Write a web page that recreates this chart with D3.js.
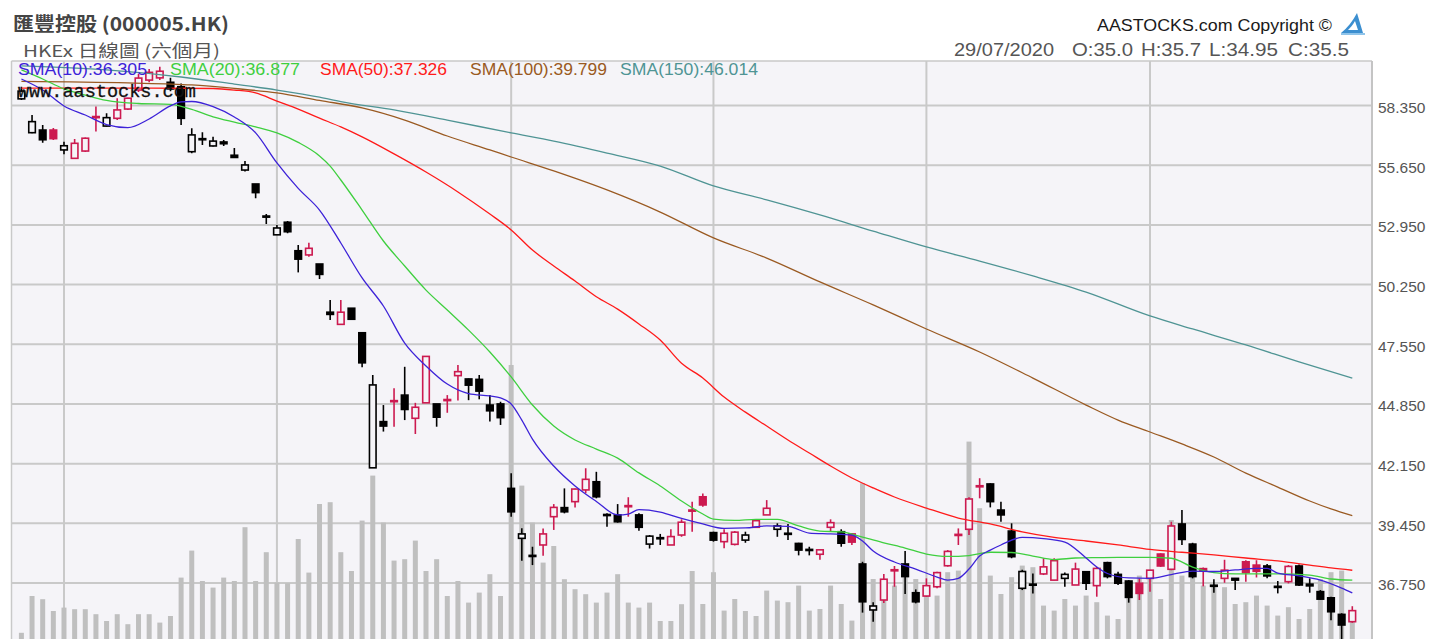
<!DOCTYPE html>
<html>
<head>
<meta charset="utf-8">
<script src="https://cdn.jsdelivr.net/npm/d3@7"></script>
<style>
  body { margin: 0; background: #fff; }
</style>
</head>
<body>
<svg id="chart" width="1430" height="639"></svg>
<script>
// trading days shown (six months to 29/07/2020)
const dates = [
  "2020-01-24","2020-01-29","2020-01-30","2020-01-31",
  "2020-02-03","2020-02-04","2020-02-05","2020-02-06","2020-02-07","2020-02-10","2020-02-11","2020-02-12","2020-02-13","2020-02-14",
  "2020-02-17","2020-02-18","2020-02-19","2020-02-20","2020-02-21","2020-02-24","2020-02-25","2020-02-26","2020-02-27","2020-02-28",
  "2020-03-02","2020-03-03","2020-03-04","2020-03-05","2020-03-06","2020-03-09","2020-03-10","2020-03-11","2020-03-12","2020-03-13",
  "2020-03-16","2020-03-17","2020-03-18","2020-03-19","2020-03-20","2020-03-23","2020-03-24","2020-03-25","2020-03-26","2020-03-27",
  "2020-03-30","2020-03-31",
  "2020-04-01","2020-04-02","2020-04-03","2020-04-06","2020-04-07","2020-04-08","2020-04-09","2020-04-14","2020-04-15","2020-04-16",
  "2020-04-17","2020-04-20","2020-04-21","2020-04-22","2020-04-23","2020-04-24","2020-04-27","2020-04-28","2020-04-29",
  "2020-05-04","2020-05-05","2020-05-06","2020-05-07","2020-05-08","2020-05-11","2020-05-12","2020-05-13","2020-05-14","2020-05-15",
  "2020-05-18","2020-05-19","2020-05-20","2020-05-21","2020-05-22","2020-05-25","2020-05-26","2020-05-27","2020-05-28","2020-05-29",
  "2020-06-01","2020-06-02","2020-06-03","2020-06-04","2020-06-05","2020-06-08","2020-06-09","2020-06-10","2020-06-11","2020-06-12",
  "2020-06-15","2020-06-16","2020-06-17","2020-06-18","2020-06-19","2020-06-22","2020-06-23","2020-06-24","2020-06-26","2020-06-29",
  "2020-06-30",
  "2020-07-02","2020-07-03","2020-07-06","2020-07-07","2020-07-08","2020-07-09","2020-07-10","2020-07-13","2020-07-14","2020-07-15",
  "2020-07-16","2020-07-17","2020-07-20","2020-07-21","2020-07-22","2020-07-23","2020-07-24","2020-07-27","2020-07-28","2020-07-29"
];

const opens = [
  58.65,57.12,57.24,57.24,56.34,55.96,56.29,57.8,57.42,57.77,58.19,59.05,59.5,59.6,59.4,59.2,56.26,56.85,56.52,56.7,
  56.1,55.43,54.8,53.35,52.5,53.07,51.78,51.59,51.18,49.0,48.45,49.18,48.07,41.96,44.05,44.95,45.25,44.2,44.9,44.85,
  45.0,46.13,45.98,45.96,44.8,44.85,41.03,38.77,38.0,38.47,39.75,40.16,40.43,40.96,41.33,39.85,39.83,40.25,39.83,38.51,
  38.8,38.47,38.92,40.0,40.65,39.03,38.62,38.5,38.69,39.27,39.83,39.18,39.0,38.54,38.27,38.05,39.27,39.07,38.97,37.61,
  35.53,35.98,37.3,37.61,36.31,36.16,36.58,37.53,38.9,39.18,41.15,41.23,40.05,39.1,36.51,36.7,37.16,36.88,36.96,36.66,
  37.26,36.63,37.67,37.14,36.84,36.74,36.96,38.06,37.37,39.42,38.51,37.4,36.65,36.96,36.96,37.71,37.56,37.52,36.6,36.81,
  37.52,36.7,36.36,36.08,35.33,35.0
];
const highs = [
  59.2,57.92,57.47,57.33,56.71,56.83,56.9,58.3,58.0,58.68,58.7,59.77,60.0,60.1,59.6,59.35,57.32,57.14,56.94,56.79,
  56.43,55.84,54.8,53.44,52.95,53.12,52.04,52.14,51.18,49.55,49.55,49.18,48.07,46.16,44.8,45.56,46.53,44.9,47.0,44.85,
  45.25,46.61,46.0,46.16,45.25,44.95,41.71,39.23,38.39,39.22,40.32,41.03,41.03,41.94,41.78,39.9,40.32,40.63,39.9,38.92,
  38.97,39.18,39.63,40.43,40.8,39.07,39.18,39.1,39.07,39.6,40.5,39.45,39.42,38.57,38.39,38.25,39.63,39.18,39.0,37.71,
  35.88,37.16,37.52,38.2,36.46,36.96,37.26,38.24,39.22,40.63,41.49,41.26,40.43,39.45,37.35,37.18,37.87,37.87,37.22,37.67,
  37.29,37.48,37.71,37.26,36.88,36.96,37.33,38.09,39.52,40.05,38.57,37.45,36.92,37.8,36.96,37.78,37.78,37.61,36.84,37.56,
  37.59,36.96,36.43,36.13,35.38,35.7
];
const lows = [
  58.6,57.1,56.67,56.79,56.14,55.93,56.25,57.17,57.4,57.69,58.15,58.96,59.4,59.5,59.0,57.47,56.19,56.56,56.5,56.52,
  55.98,55.36,54.15,52.99,52.5,52.57,50.8,51.51,50.5,48.65,48.42,48.65,46.51,41.96,43.6,43.82,44.12,43.49,44.9,43.82,
  44.45,45.0,45.02,45.06,44.05,43.9,39.75,37.76,37.56,37.98,39.15,39.9,40.17,40.81,40.58,39.3,39.48,39.75,39.11,38.31,
  38.47,38.47,38.84,39.07,40.2,38.62,38.32,38.45,38.57,39.27,39.83,38.84,38.7,38.0,38.0,37.8,39.07,38.39,38.47,35.41,
  35.0,35.85,36.58,36.25,35.83,36.13,36.51,37.49,38.47,38.92,40.58,40.17,39.52,37.87,36.43,36.28,37.11,36.88,36.58,36.66,
  36.43,36.13,36.96,36.66,35.86,35.98,36.35,37.48,37.33,38.47,36.96,36.6,36.31,36.76,36.43,36.81,37.0,36.96,36.28,36.73,
  36.61,36.31,36.0,35.07,34.0,34.95
];
const closes = [
  59.0,57.62,56.8,56.85,56.53,56.64,56.87,57.85,57.8,58.15,58.68,59.59,59.85,59.9,59.1,57.77,57.02,56.8,56.74,56.62,
  56.0,55.66,54.41,53.3,52.81,52.64,51.4,51.89,50.71,48.9,49.0,48.68,46.71,45.71,43.85,45.0,44.6,44.7,47.0,44.25,
  45.05,46.31,45.7,45.43,44.54,44.23,39.97,38.97,37.95,38.97,40.17,39.97,41.0,41.44,40.65,39.8,39.52,40.2,39.27,38.87,
  38.75,38.85,39.5,40.05,40.28,38.69,39.0,39.05,38.92,39.57,40.13,39.33,38.95,38.24,38.22,38.25,39.48,38.55,38.6,35.9,
  35.71,36.92,37.35,37.04,35.9,36.63,37.22,38.18,38.95,40.55,41.1,40.43,39.83,37.94,37.27,36.65,37.48,37.76,37.14,37.38,
  36.74,37.41,37.04,36.74,36.1,36.28,37.33,37.52,39.33,38.72,37.04,37.3,36.6,37.33,36.88,37.22,37.28,37.07,36.55,37.5,
  36.66,36.62,36.02,35.45,34.85,35.5
];
const prevClose = 59.3; // close of the day before the first bar

// volume, million shares
const volumes = [
  8.6,27,25.4,19.5,21.2,20.4,20.4,17.9,14.5,17.9,12.9,17.9,17.9,13.7,17,36.2,49.7,34.5,31.2,36.2,
  34.5,61.4,34.5,48.9,33.7,33.4,55.5,38.7,73,73.9,48.9,39.5,64.7,87.2,63.7,44.7,45.4,54.7,39.5,45.4,
  27,34.5,23.7,28.7,37.9,27,142.5,82.2,63.7,43.7,52,35.4,30.4,27.9,23.7,28.7,37.9,23.7,21.2,23.7,
  14.5,14.5,22.9,39.5,23,38.9,19.7,25.5,19.5,17,29.7,24.7,23.9,32.2,19.7,20.5,32.2,23,14.7,83.4,
  35.5,29.7,32.2,36.4,35.5,30.5,27.2,38.9,39.7,104.2,70.9,37.2,28,36.4,42.2,41.4,22.2,19.7,25.5,22.2,
  27.2,23.9,17.2,15.5,30.5,37.2,39.7,25.5,65,37.2,38,32.2,32.2,31.4,23,23.9,27.2,22.2,17.2,21.4,
  15.5,20.5,35.5,38.9,39.7,17.2
];

// moving averages: [bar index, value]
const sma10 = [
  [0,59.55],[2,59.05],[4,58.33],[6,57.92],[8,57.49],[10,57.35],[12,57.74],[14,58.33],[15,58.51],[16,58.53],
  [18,58.3],[20,57.83],[22,57.11],[24,55.75],[26,54.6],[28,53.62],[30,52.13],[32,50.55],[34,49.28],[36,47.6],
  [38,46.57],[40,45.75],[42,45.32],[44,45.21],[45,45.12],[46,44.85],[47,44.12],[48,43.26],[50,42.04],[52,41.14],
  [54,40.44],[56,39.83],[57,39.87],[58,40.07],[60,39.96],[62,39.67],[64,39.42],[66,39.22],[68,39.24],[70,39.33],
  [72,39.31],[74,39.01],[76,38.97],[78,38.92],[79,38.65],[80,38.2],[82,37.7],[84,37.38],[86,37.02],[87,36.88],
  [88,36.96],[89,37.38],[90,37.97],[91,38.24],[92,38.47],[94,38.81],[96,38.76],[98,38.6],[100,37.88],[101,37.47],
  [102,37.18],[104,36.98],[106,36.96],[108,37.13],[110,37.29],[112,37.27],[114,37.34],[116,37.41],[117,37.41],
  [118,37.2],[120,37.07],[122,36.88],[124,36.52],[125,36.305]
];
const sma20 = [
  [0,59.96],[2,59.55],[4,59.1],[6,58.82],[8,58.58],[11,58.44],[14,58.4],[16,58.17],[18,57.84],[20,57.6],
  [22,57.38],[24,57.11],[26,56.68],[28,56.07],[29,55.61],[30,54.98],[32,53.62],[34,52.22],[36,51.09],[38,50.0],
  [40,49.1],[42,48.19],[44,47.2],[46,46.07],[48,44.8],[50,43.85],[52,43.22],[54,42.81],[56,42.4],[58,41.73],
  [60,41.14],[62,40.46],[64,39.87],[65,39.64],[67,39.58],[69,39.63],[71,39.63],[73,39.33],[75,39.1],[77,39.06],
  [79,38.83],[81,38.57],[83,38.33],[85,38.06],[87,37.95],[89,37.99],[91,38.14],[93,38.13],[95,37.97],[97,37.81],
  [99,37.88],[101,37.9],[103,37.91],[106,37.91],[108,37.87],[110,37.47],[112,37.22],[114,37.16],[118,37.16],
  [121,37.11],[123,36.93],[125,36.877]
];
const sma50 = [
  [0,59.14],[10,59.14],[18,59.12],[20,59.05],[22,58.92],[24,58.55],[26,58.19],[28,57.78],[30,57.38],[32,56.93],
  [35,56.16],[38,55.34],[41,54.44],[44,53.44],[46,52.72],[48,51.81],[50,51.09],[52,50.41],[54,49.7],[56,49.14],
  [58,48.47],[60,47.74],[62,46.69],[64,46.02],[66,45.16],[68,44.48],[70,43.85],[72,43.22],[74,42.63],[76,42.04],
  [78,41.5],[80,41.05],[82,40.64],[85,40.14],[88,39.69],[91,39.42],[94,39.06],[97,38.81],[100,38.65],[103,38.47],
  [106,38.27],[109,38.14],[112,38.02],[115,37.88],[118,37.75],[121,37.56],[123,37.43],[125,37.326]
];
const sma100 = [
  [0,59.44],[10,59.37],[16,59.28],[20,59.12],[24,58.92],[28,58.58],[32,58.24],[36,57.69],[40,56.97],[44,56.34],
  [46,56.02],[50,55.39],[55,54.53],[60,53.53],[65,52.36],[70,51.45],[75,50.37],[80,49.33],[85,48.24],[90,47.2],
  [95,46.02],[100,44.8],[103,44.12],[106,43.58],[109,43.04],[112,42.45],[115,41.72],[118,41.09],[121,40.46],
  [123,40.1],[125,39.799]
];
const sma150 = [
  [0,60.14],[8,59.96],[15,59.64],[20,59.32],[24,59.05],[28,58.73],[30,58.53],[35,58.15],[40,57.69],[46,57.11],
  [50,56.74],[55,56.2],[60,55.61],[65,54.71],[70,54.08],[75,53.4],[80,52.67],[85,51.95],[90,51.31],[95,50.64],
  [100,49.91],[106,48.83],[110,48.24],[115,47.52],[120,46.75],[125,46.014]
];

const yTicks = [58.35, 55.65, 52.95, 50.25, 47.55, 44.85, 42.15, 39.45, 36.75];

const smaSeries = [
  { name: "SMA(10)", data: sma10, color: "#3d22d8", lx: 18, lw: 129 },
  { name: "SMA(20)", data: sma20, color: "#3fcf3f", lx: 170, lw: 130 },
  { name: "SMA(50)", data: sma50, color: "#ff1a1a", lx: 320, lw: 127 },
  { name: "SMA(100)", data: sma100, color: "#9a5a22", lx: 470, lw: 137 },
  { name: "SMA(150)", data: sma150, color: "#4f9494", lx: 620, lw: 138 }
];

const svg = d3.select("#chart");
const plot = { left: 11.5, right: 1372, top: 61, bottom: 660 };
const upColor = "#cc1a50", downColor = "#000", bg = "#f5f4f8";
const sans = "'Liberation Sans', Arial, sans-serif";

const x = d3.scalePoint().domain(dates).range([21.4, 1352.3]);
const y = d3.scaleLinear().domain([36.75, 58.35]).range([583, 105.5]);
const v = d3.scaleLinear().domain([0, 150]).range([650, 350]);

svg.append("defs").append("clipPath").attr("id", "clip")
  .append("rect")
  .attr("x", plot.left).attr("y", plot.top)
  .attr("width", plot.right - plot.left).attr("height", plot.bottom - plot.top);

svg.append("rect")
  .attr("x", plot.left).attr("y", plot.top)
  .attr("width", plot.right - plot.left).attr("height", plot.bottom - plot.top)
  .attr("fill", bg);

const g = svg.append("g").attr("clip-path", "url(#clip)");

// grid
g.selectAll(".hgrid").data(yTicks).join("line")
  .attr("x1", plot.left).attr("x2", plot.right)
  .attr("y1", d => y(d)).attr("y2", d => y(d))
  .attr("stroke", "#c9c9c9").attr("stroke-width", 2);

const monthStarts = dates.filter((d, i) => i > 0 && d.slice(5, 7) !== dates[i - 1].slice(5, 7));
g.selectAll(".vgrid").data(monthStarts).join("line")
  .attr("x1", d => x(d)).attr("x2", d => x(d))
  .attr("y1", plot.top).attr("y2", plot.bottom)
  .attr("stroke", "#c9c9c9").attr("stroke-width", 2);

// volume
g.selectAll(".vol").data(volumes).join("rect")
  .attr("x", (d, i) => x(dates[i]) - 2.5)
  .attr("width", 5)
  .attr("y", d => v(d))
  .attr("height", d => v(0) - v(d))
  .attr("fill", "#bfbfbf");

// candles: red = close above previous close, hollow = close above open
const bars = dates.map((d, i) => {
  const pc = i > 0 ? closes[i - 1] : prevClose;
  return { date: d, o: opens[i], h: highs[i], l: lows[i], c: closes[i], red: closes[i] > pc, hollow: closes[i] > opens[i] };
});

const cg = g.selectAll(".candle").data(bars).join("g");
cg.append("line")
  .attr("x1", d => x(d.date)).attr("x2", d => x(d.date))
  .attr("y1", d => y(d.h)).attr("y2", d => y(d.l))
  .attr("stroke", d => d.red ? upColor : downColor)
  .attr("stroke-width", 1.6);
cg.append("rect")
  .attr("x", d => x(d.date) - 3.3)
  .attr("width", 6.6)
  .attr("y", d => y(Math.max(d.o, d.c)))
  .attr("height", d => Math.max(0.8, Math.abs(y(d.o) - y(d.c))))
  .attr("fill", d => d.hollow ? bg : (d.red ? upColor : downColor))
  .attr("stroke", d => d.red ? upColor : downColor)
  .attr("stroke-width", 1.6);

// moving averages
const line = d3.line()
  .x(d => x(dates[d[0]]))
  .y(d => y(d[1]))
  .curve(d3.curveMonotoneX);

g.selectAll(".sma").data(smaSeries.slice().reverse()).join("path")
  .attr("d", d => line(d.data))
  .attr("fill", "none")
  .attr("stroke", d => d.color)
  .attr("stroke-width", 1.3);

// frame and axis
svg.append("line").attr("x1", plot.left).attr("x2", plot.right)
  .attr("y1", plot.top).attr("y2", plot.top)
  .attr("stroke", "#c9c9c9").attr("stroke-width", 1.5);
svg.append("line").attr("x1", plot.left).attr("x2", plot.left)
  .attr("y1", plot.top).attr("y2", 639)
  .attr("stroke", "#c9c9c9").attr("stroke-width", 1.5);

const yAxis = d3.axisRight(y).tickValues(yTicks).tickFormat(d3.format(".3f")).tickSize(0).tickPadding(6);
const ax = svg.append("g").attr("transform", `translate(${plot.right},0)`).call(yAxis);
ax.select(".domain").remove();
ax.append("line").attr("x1", 0).attr("x2", 0).attr("y1", plot.top).attr("y2", 639)
  .attr("stroke", "#c4c4c4").attr("stroke-width", 2);
ax.selectAll(".tick text")
  .attr("dy", "0.45em")
  .attr("fill", "#555")
  .style("font-family", sans)
  .style("font-size", "15.5px");

// watermark
svg.append("text")
  .attr("x", 18).attr("y", 97)
  .attr("textLength", 178).attr("lengthAdjust", "spacingAndGlyphs")
  .style("font-family", "'Liberation Mono', 'DejaVu Sans Mono', monospace")
  .style("font-size", "19px")
  .attr("fill", "#111")
  .attr("stroke", "#111").attr("stroke-width", 0.3)
  .text("www.aastocks.com");

// legend
svg.selectAll(".legend").data(smaSeries).join("text")
  .attr("x", d => d.lx).attr("y", 75)
  .attr("textLength", d => d.lw).attr("lengthAdjust", "spacingAndGlyphs")
  .attr("fill", d => d.color)
  .style("font-family", sans)
  .style("font-size", "16.5px")
  .text(d => d.name + ":" + d3.format(".3f")(d.data[d.data.length - 1][1]));

// header
svg.append("text")
  .attr("x", 13).attr("y", 31)
  .attr("textLength", 216).attr("lengthAdjust", "spacingAndGlyphs")
  .attr("fill", "#444")
  .style("font-family", "'Noto Sans CJK TC', sans-serif")
  .style("font-weight", "bold")
  .style("font-size", "19px")
  .text("匯豐控股 (000005.HK)");
svg.append("text")
  .attr("x", 23).attr("y", 57)
  .attr("textLength", 197).attr("lengthAdjust", "spacingAndGlyphs")
  .attr("fill", "#555")
  .style("font-family", "'Noto Sans CJK TC', sans-serif")
  .style("font-size", "16.5px")
  .text("HKEx 日線圖 (六個月)");

svg.append("text")
  .attr("x", 1097).attr("y", 31)
  .attr("textLength", 235).attr("lengthAdjust", "spacingAndGlyphs")
  .attr("fill", "#1a1a1a")
  .style("font-family", sans)
  .style("font-size", "17px")
  .text("AASTOCKS.com Copyright ©");

// logo
const logo = svg.append("g").attr("transform", "translate(1341,13)");
logo.append("path").attr("d", "M16,0 C12,8 6,15 0,20 L22,20 C20,13 18,7 16,0 Z").attr("fill", "#3c8fd0");
logo.append("path").attr("d", "M14,8 C12,12 9,15 7,17 L17,17 C16,14 15,11 14,8 Z").attr("fill", "#fff");
logo.append("rect").attr("x", 0).attr("y", 20).attr("width", 24).attr("height", 2).attr("fill", "#8fc4ea");

const last = bars[bars.length - 1];
const fmtDate = d3.timeFormat("%d/%m/%Y");
const ohlc = [
  { t: fmtDate(d3.timeParse("%Y-%m-%d")(last.date)), x: 954, w: 100 },
  { t: "O:" + last.o.toFixed(1), x: 1072, w: 61 },
  { t: "H:" + last.h, x: 1141, w: 60 },
  { t: "L:" + last.l, x: 1209, w: 69 },
  { t: "C:" + last.c, x: 1288, w: 61 }
];
svg.selectAll(".ohlc").data(ohlc).join("text")
  .attr("x", d => d.x).attr("y", 56)
  .attr("textLength", d => d.w).attr("lengthAdjust", "spacingAndGlyphs")
  .attr("fill", "#555")
  .style("font-family", sans)
  .style("font-size", "17.5px")
  .text(d => d.t);
</script>
</body>
</html>
